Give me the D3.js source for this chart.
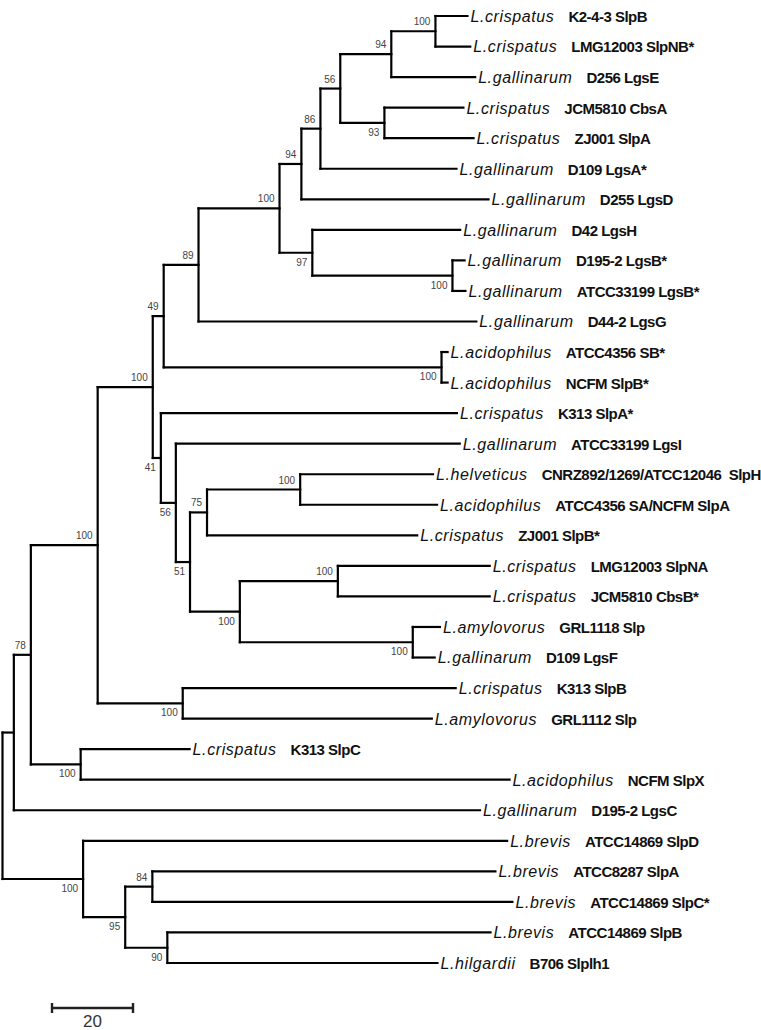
<!DOCTYPE html>
<html>
<head>
<meta charset="utf-8">
<script src="https://cdn.jsdelivr.net/npm/d3@7"></script>
<style>
  html, body { margin: 0; padding: 0; background: #fff; }
  svg { display: block; }
  text { white-space: pre; }
</style>
</head>
<body>
<svg id="chart" width="761" height="1030"></svg>
<script>
// ---- Tree data (pre-order) ----
const nodeIds = ["root","n1","n2","n3","n4","n5","n6","n7","n8","n9","n10","n11","n12","L1","L2","L3","n13","L4","L5","L6","L7","n14","L8","n15","L9","L10","L11","n16","L12","L13","n17","L14","n18","L15","n19","n20","n21","L16","L17","L18","n22","n23","L19","L20","n24","L21","L22","n25","L23","L24","n26","L25","L26","L27","n27","L28","n28","n29","L29","L30","n30","L31","L32"];
const parentIds = ["","root","n1","n2","n3","n4","n5","n6","n7","n8","n9","n10","n11","n12","n12","n11","n10","n13","n13","n9","n8","n7","n14","n14","n15","n15","n6","n5","n16","n16","n4","n17","n17","n18","n18","n19","n20","n21","n21","n20","n19","n22","n23","n23","n22","n24","n24","n3","n25","n25","n2","n26","n26","n1","root","n27","n27","n28","n29","n29","n28","n30","n30"];
const branchLengths = [0,2.8,4.2,16.5,13.6,2.7,8.6,20.0,5.4,4.7,4.9,12.6,10.9,7.9,8.6,20.7,10.9,19.5,22.0,33.6,46.2,8.1,36.5,34.6,3.0,3.2,68.6,68.6,1.5,1.5,2.0,73.1,3.7,70.1,3.5,4.2,23.0,32.8,33.8,51.9,12.3,24.2,37.5,37.5,42.7,6.7,5.4,21.0,67.4,61.5,12.3,26.9,105.9,115.1,19.9,104.7,10.4,6.7,84.7,88.9,10.4,79.8,66.7];
const bootstrap = [null,null,78,100,100,49,89,100,94,86,56,94,100,null,null,null,93,null,null,null,null,97,null,100,null,null,null,100,null,null,41,null,56,null,51,75,100,null,null,null,100,100,null,null,100,null,null,100,null,null,100,null,null,null,100,null,95,84,null,null,90,null,null];

const leafIds = ["L1","L2","L3","L4","L5","L6","L7","L8","L9","L10","L11","L12","L13","L14","L15","L16","L17","L18","L19","L20","L21","L22","L23","L24","L25","L26","L27","L28","L29","L30","L31","L32"];
const species = ["L.crispatus","L.crispatus","L.gallinarum","L.crispatus","L.crispatus","L.gallinarum","L.gallinarum","L.gallinarum","L.gallinarum","L.gallinarum","L.gallinarum","L.acidophilus","L.acidophilus","L.crispatus","L.gallinarum","L.helveticus","L.acidophilus","L.crispatus","L.crispatus","L.crispatus","L.amylovorus","L.gallinarum","L.crispatus","L.amylovorus","L.crispatus","L.acidophilus","L.gallinarum","L.brevis","L.brevis","L.brevis","L.brevis","L.hilgardii"];
const strains = ["K2-4-3 SlpB","LMG12003 SlpNB*","D256 LgsE","JCM5810 CbsA","ZJ001 SlpA","D109 LgsA*","D255 LgsD","D42 LgsH","D195-2 LgsB*","ATCC33199 LgsB*","D44-2 LgsG","ATCC4356 SB*","NCFM SlpB*","K313 SlpA*","ATCC33199 LgsI","CNRZ892/1269/ATCC12046  SlpH","ATCC4356 SA/NCFM SlpA","ZJ001 SlpB*","LMG12003 SlpNA","JCM5810 CbsB*","GRL1118 Slp","D109 LgsF","K313 SlpB","GRL1112 Slp","K313 SlpC","NCFM SlpX","D195-2 LgsC","ATCC14869 SlpD","ATCC8287 SlpA","ATCC14869 SlpC*","ATCC14869 SlpB","B706 Slplh1"];

const scaleBarValue = 20;

// ---- Build hierarchy ----
const rows = nodeIds.map((id, i) => ({ id, parent: parentIds[i] || null, len: branchLengths[i], boot: bootstrap[i] }));
const root = d3.stratify().id(d => d.id).parentId(d => d.parent)(rows);

root.eachBefore(n => { n.depthLen = n.parent ? n.parent.depthLen + n.data.len : 0; });

const xScale = d3.scaleLinear().domain([0, 1]).range([2.5, 2.5 + 4.05]);
const yScale = d3.scalePoint().domain(leafIds).range([16, 963]);

root.eachAfter(n => {
  n.px = xScale(n.depthLen);
  if (!n.children) n.py = yScale(n.id);
  else n.py = (n.children[0].py + n.children[n.children.length - 1].py) / 2;
});

const svg = d3.select("#chart");
const g = svg.append("g");

const nodes = root.descendants();

// vertical connectors
g.selectAll("line.v").data(nodes.filter(n => n.children)).join("line")
  .attr("x1", n => n.px).attr("x2", n => n.px)
  .attr("y1", n => n.children[0].py).attr("y2", n => n.children[n.children.length - 1].py)
  .attr("stroke", "#000").attr("stroke-width", 2.2).attr("stroke-linecap", "square");

// horizontal branches
g.selectAll("line.h").data(nodes.filter(n => n.parent)).join("line")
  .attr("x1", n => n.parent.px).attr("x2", n => n.px)
  .attr("y1", n => n.py).attr("y2", n => n.py)
  .attr("stroke", "#000").attr("stroke-width", 2.2).attr("stroke-linecap", "square");

// bootstrap labels
g.selectAll("text.boot").data(nodes.filter(n => n.data.boot != null)).join("text")
  .attr("x", n => n.px - 5)
  .attr("y", n => (n.parent.children[0] === n) ? n.py - 6 : n.py + 13)
  .attr("text-anchor", "end")
  .attr("font-family", "Liberation Sans, Arial, sans-serif")
  .attr("font-size", 10)
  .attr("fill", "#444")
  .text(n => n.data.boot);

// leaf labels
const leaves = root.leaves();
const lab = g.selectAll("text.leaf").data(leaves).join("text")
  .attr("x", n => n.px + 3)
  .attr("y", n => n.py)
  .attr("dy", "0.37em")
  .attr("font-family", "Liberation Sans, Arial, sans-serif")
  .attr("fill", "#111");
lab.append("tspan")
  .attr("font-style", "italic").attr("font-size", 16).attr("letter-spacing", 0.6)
  .text(n => species[leafIds.indexOf(n.id)]);
lab.append("tspan")
  .attr("dx", 14)
  .attr("font-weight", "bold").attr("font-size", 15).attr("letter-spacing", -0.5)
  .text(n => strains[leafIds.indexOf(n.id)]);

// scale bar
const sbX0 = 52, sbY = 1008;
const sbLen = xScale(scaleBarValue) - xScale(0);
const sb = svg.append("g").attr("stroke", "#222").attr("stroke-width", 2.4);
sb.append("line").attr("x1", sbX0).attr("x2", sbX0 + sbLen).attr("y1", sbY).attr("y2", sbY);
sb.append("line").attr("x1", sbX0).attr("x2", sbX0).attr("y1", sbY - 5).attr("y2", sbY + 5);
sb.append("line").attr("x1", sbX0 + sbLen).attr("x2", sbX0 + sbLen).attr("y1", sbY - 5).attr("y2", sbY + 5);
svg.append("text")
  .attr("x", sbX0 + sbLen / 2).attr("y", 1027)
  .attr("text-anchor", "middle")
  .attr("font-family", "Liberation Sans, Arial, sans-serif")
  .attr("font-size", 17).attr("fill", "#333")
  .text(scaleBarValue);
</script>
</body>
</html>
